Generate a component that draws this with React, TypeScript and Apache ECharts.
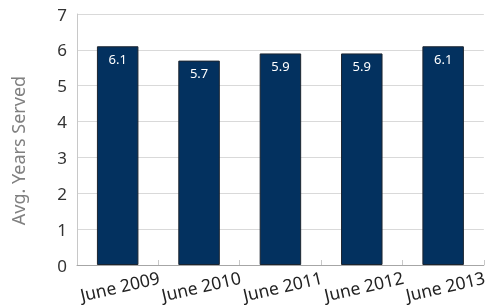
import React, { useEffect, useRef } from "react";
import * as echarts from "echarts";

const categories = ["June 2009", "June 2010", "June 2011", "June 2012", "June 2013"];
const values = [6.1, 5.7, 5.9, 5.9, 6.1];
const yTicks = [0, 1, 2, 3, 4, 5, 6, 7];
const yAxisName = "Avg. Years Served";

export default function App() {
  const ref = useRef<HTMLDivElement>(null);
  useEffect(() => {
    if (!ref.current) return;
    const chart = echarts.init(ref.current, null, { renderer: "svg" });
    const font = "'Noto Sans', 'Open Sans', sans-serif";
    chart.setOption({
      animation: false,
      textStyle: { fontFamily: font },
      grid: { left: 77, right: 0, top: 14, bottom: 41, containLabel: false },
      xAxis: {
        type: "category",
        data: categories,
        axisLine: { show: true, lineStyle: { color: "#a6a6a6", width: 1 } },
        axisTick: { show: true, inside: true, length: 5, alignWithLabel: false, lineStyle: { color: "#c8c8c8" } },
        axisLabel: {
          interval: 0,
          hideOverlap: false,
          rotate: 13,
          align: "center",
          verticalAlign: "top",
          margin: 12,
          fontSize: 17.5,
          color: "#222",
          fontFamily: font,
        },
      },
      yAxis: {
        type: "value",
        min: yTicks[0],
        max: yTicks[yTicks.length - 1],
        interval: 1,
        name: yAxisName,
        nameLocation: "middle",
        nameGap: 50,
        nameTextStyle: { fontSize: 18, color: "#808080", fontFamily: font, padding: [0, 22, 0, 0] },
        axisLine: { show: true, lineStyle: { color: "#c8c8c8" } },
        axisTick: { show: false },
        axisLabel: { fontSize: 17, color: "#333", margin: 10, fontFamily: font },
        splitLine: { show: true, lineStyle: { color: "#d9d9d9", width: 1 } },
      },
      series: [
        {
          type: "bar",
          data: values,
          barWidth: "51%",
          itemStyle: { color: "#03315f", borderColor: "#1c2530", borderWidth: 1 },
          label: {
            show: true,
            position: "insideTop",
            distance: 6,
            color: "#fff",
            fontSize: 13,
            fontFamily: font,
          },
        },
      ],
    });
    return () => chart.dispose();
  }, []);
  return <div ref={ref} style={{ position: "fixed", left: 0, top: 0, width: 489, height: 306 }} />;
}
